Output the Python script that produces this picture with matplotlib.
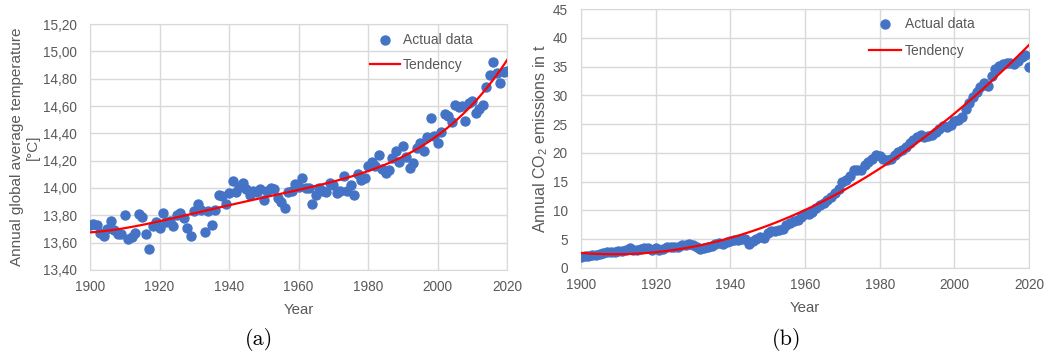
import numpy as np
import matplotlib.pyplot as plt
from matplotlib.ticker import FuncFormatter

# yearly values 1900..2020
years = np.arange(1900, 2021)

temperature = [
    13.73, 13.74, 13.73, 13.67, 13.65, 13.70, 13.76, 13.69, 13.66, 13.66,
    13.80, 13.63, 13.64, 13.67, 13.81, 13.79, 13.66, 13.55, 13.72, 13.75,
    13.71, 13.82, 13.75, 13.76, 13.72, 13.80, 13.82, 13.78, 13.71, 13.65,
    13.83, 13.88, 13.84, 13.68, 13.83, 13.73, 13.84, 13.95, 13.94, 13.88,
    13.96, 14.05, 13.97, 14.01, 14.04, 13.99, 13.95, 13.98, 13.97, 13.99,
    13.91, 13.98, 14.00, 13.99, 13.93, 13.90, 13.85, 13.97, 13.98, 14.03,
    14.01, 14.07, 14.00, 14.00, 13.88, 13.95, 14.00, 13.98, 13.97, 14.04,
    14.02, 13.96, 13.98, 14.09, 13.98, 14.02, 13.95, 14.10, 14.06, 14.07,
    14.16, 14.19, 14.16, 14.24, 14.14, 14.11, 14.13, 14.22, 14.27, 14.19,
    14.31, 14.23, 14.15, 14.18, 14.29, 14.33, 14.27, 14.37, 14.51, 14.38,
    14.33, 14.41, 14.54, 14.53, 14.48, 14.61, 14.59, 14.60, 14.49, 14.62,
    14.64, 14.55, 14.58, 14.61, 14.74, 14.83, 14.92, 14.84, 14.77, 14.85,
    14.86,
]

co2 = [
    1.95, 2.01, 2.06, 2.26, 2.28, 2.42, 2.53, 2.80, 2.71, 2.82,
    2.97, 3.02, 3.16, 3.44, 3.13, 3.09, 3.31, 3.49, 3.43, 3.06,
    3.47, 3.13, 3.22, 3.63, 3.63, 3.68, 3.68, 3.93, 3.94, 4.18,
    3.92, 3.58, 3.24, 3.43, 3.72, 3.86, 4.18, 4.37, 4.19, 4.43,
    4.75, 4.86, 4.88, 5.03, 5.07, 4.21, 4.63, 5.07, 5.33, 5.22,
    6.00, 6.39, 6.47, 6.66, 6.82, 7.42, 7.90, 8.19, 8.40, 8.81,
    9.38, 9.43, 9.80, 10.35, 10.89, 11.35, 11.89, 12.29, 12.95, 13.67,
    14.86, 15.32, 15.94, 17.00, 16.95, 17.00, 17.90, 18.45, 18.90, 19.70,
    19.40, 18.90, 18.70, 18.90, 19.60, 20.15, 20.45, 20.95, 21.75, 22.30,
    22.70, 23.05, 22.70, 22.85, 23.15, 23.60, 24.20, 24.60, 24.45, 24.80,
    25.60, 25.80, 26.30, 27.70, 28.70, 29.70, 30.60, 31.50, 32.10, 31.60,
    33.40, 34.60, 35.10, 35.40, 35.60, 35.60, 35.50, 35.90, 36.70, 37.00,
    35.00,
]

grey = '#595959'
blue = '#4472C4'
red = '#FF0000'
plt.rcParams['font.family'] = ['Liberation Sans', 'DejaVu Sans']
plt.rcParams['mathtext.fontset'] = 'custom'
plt.rcParams['mathtext.rm'] = 'Liberation Sans'

fig = plt.figure(figsize=(10.51, 3.59), dpi=100)
ax1 = fig.add_axes([0.0856, 0.248, 0.397, 0.685])
ax2 = fig.add_axes([0.5528, 0.2535, 0.4263, 0.7214])


def style(ax):
    ax.grid(True, color='#d9d9d9', linewidth=1)
    ax.set_axisbelow(True)
    for s in ax.spines.values():
        s.set_color('#d9d9d9')
    ax.tick_params(length=0, colors=grey, labelsize=9.8)
    ax.tick_params(axis='x', pad=7.5)
    ax.tick_params(axis='y', pad=9.5)
    ax.set_xlim(1900, 2020)
    ax.set_xticks(range(1900, 2021, 20))
    ax.set_xlabel('Year', color=grey, fontsize=10.8, labelpad=6.5)


def trend(vals, deg):
    # polynomial trend line through the yearly values
    c = np.polyfit(years - 1900, vals, deg)
    return np.polyval(c, years - 1900)


leg_kw = dict(loc='upper left', frameon=False, fontsize=10, labelcolor=grey,
              borderpad=0, borderaxespad=0)

# (a) temperature
style(ax1)
ax1.scatter(years, temperature, s=42, color=blue, zorder=3, label='Actual data')
ax1.plot(years, trend(temperature, 4), color=red, lw=1.6, zorder=4, label='Tendency')
ax1.set_ylim(13.4, 15.2)
ax1.set_yticks(np.arange(13.4, 15.21, 0.2))
ax1.yaxis.set_major_formatter(FuncFormatter(lambda v, p: f'{v:.2f}'.replace('.', ',')))
ax1.set_ylabel('Annual global average temperature\n[°C]', color=grey, fontsize=11,
               linespacing=1.15, labelpad=2)
ax1.legend(bbox_to_anchor=(0.671, 0.965), handlelength=2.16, handletextpad=0.2,
           labelspacing=0.82, **leg_kw)

# (b) CO2
style(ax2)
ax2.scatter(years, co2, s=42, color=blue, zorder=3, label='Actual data')
ax2.plot(years, trend(co2, 2), color=red, lw=1.6, zorder=4, label='Tendency')
ax2.set_ylim(0, 45)
ax2.set_yticks(range(0, 46, 5))
ax2.set_ylabel(r'Annual CO$_\mathregular{2}$ emissions in t', color=grey, fontsize=11.5,
               labelpad=2)
ax2.legend(bbox_to_anchor=(0.643, 0.970), handlelength=2.3, handletextpad=0.29,
           labelspacing=0.96, **leg_kw)

fig.text(0.2465, 0.053, '(a)', fontsize=16, family='cmr10', ha='center', va='center')
fig.text(0.748, 0.053, '(b)', fontsize=16, family='cmr10', ha='center', va='center')

fig.savefig('out.png', dpi=100)
